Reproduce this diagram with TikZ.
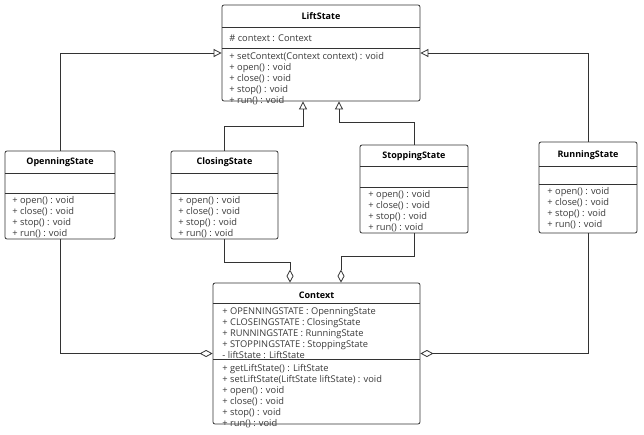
\documentclass[tikz,border=0pt]{standalone}
\usepackage{fontspec}
\setmainfont{Open Sans}
\usetikzlibrary{arrows.meta}
\definecolor{umlline}{HTML}{333333}
\definecolor{umltext}{HTML}{3A3A3A}

\begin{document}
\begin{tikzpicture}[x=1pt,y=-1pt,line width=0.8pt,
  cls/.style={draw=umlline,rounded corners=2pt,inner sep=0pt,fill=white},
  ttl/.style={inner sep=0pt,text=black,font=\fontsize{9}{10}\selectfont\bfseries},
  txt/.style={anchor=north west,align=left,inner sep=0pt,text=umltext,font=\fontsize{9.3}{11}\selectfont},
  sep/.style={draw=umlline,line width=0.7pt},
  gen/.style={draw=umlline,-{Triangle[open,length=8pt,width=8pt]}},
  agg/.style={draw=umlline,-{Diamond[open,length=13pt,width=7pt]}}]
  \useasboundingbox (0,0) rectangle (644,434);

  % class boxes
  \node[cls,minimum width=198pt,minimum height=96pt] (lift) at (321,53) {};
  \node[cls,minimum width=110pt,minimum height=88pt] (open) at (60,195) {};
  \node[cls,minimum width=107pt,minimum height=88pt] (close) at (224.5,195) {};
  \node[cls,minimum width=108pt,minimum height=88pt] (stop) at (414,189) {};
  \node[cls,minimum width=98pt,minimum height=91pt] (run) at (588,187.5) {};
  \node[cls,minimum width=207pt,minimum height=141pt] (ctx) at (316.5,353.5) {};

  % compartments
  \draw[sep] (222,27) -- (420,27);
  \draw[sep] (222,48) -- (420,48);
  \draw[sep] (5,173) -- (115,173);
  \draw[sep] (5,193) -- (115,193);
  \draw[sep] (171,173) -- (278,173);
  \draw[sep] (171,193) -- (278,193);
  \draw[sep] (360,166) -- (468,166);
  \draw[sep] (360,187) -- (468,187);
  \draw[sep] (539,166) -- (637,166);
  \draw[sep] (539,184) -- (637,184);
  \draw[sep] (213,303) -- (420,303);
  \draw[sep] (213,359) -- (420,359);

  % LiftState
  \node[ttl] (lift-t) at (321,16) {LiftState};
  \node[txt] (lift-a) at (229,34) {\# context : Context};
  \node[txt] (lift-o) at (229,52.5) {+ setContext(Context context) : void\\+ open() : void\\+ close() : void\\+ stop() : void\\+ run() : void};

  % OpenningState
  \node[ttl] (open-t) at (60,162) {OpenningState};
  \node[txt] (open-o) at (12,196.5) {+ open() : void\\+ close() : void\\+ stop() : void\\+ run() : void};

  % ClosingState
  \node[ttl] (close-t) at (224.5,162) {ClosingState};
  \node[txt] (close-o) at (178,196.5) {+ open() : void\\+ close() : void\\+ stop() : void\\+ run() : void};

  % StoppingState
  \node[ttl] (stop-t) at (414,156) {StoppingState};
  \node[txt] (stop-o) at (368,190.5) {+ open() : void\\+ close() : void\\+ stop() : void\\+ run() : void};

  % RunningState
  \node[ttl] (run-t) at (588,155) {RunningState};
  \node[txt] (run-o) at (547,187) {+ open() : void\\+ close() : void\\+ stop() : void\\+ run() : void};

  % Context
  \node[ttl] (ctx-t) at (316.5,295) {Context};
  \node[txt] (ctx-a) at (222,307.5) {+ OPENNINGSTATE : OpenningState\\+ CLOSEINGSTATE : ClosingState\\+ RUNNINGSTATE : RunningState\\+ STOPPINGSTATE : StoppingState\\- liftState : LiftState};
  \node[txt] (ctx-o) at (222,363.5) {+ getLiftState() : LiftState\\+ setLiftState(LiftState liftState) : void\\+ open() : void\\+ close() : void\\+ stop() : void\\+ run() : void};

  % attachment points
  \coordinate (ls1) at ([xshift=-18pt]lift.south);
  \coordinate (ls2) at ([xshift=18pt]lift.south);
  \coordinate (cx1) at ([xshift=-26.5pt]ctx.north);
  \coordinate (cx2) at ([xshift=24.5pt]ctx.north);

  % generalization
  \draw[gen] (open.north) |- (lift.west);
  \draw[gen] (run.north) |- (lift.east);
  \draw[gen] (close.north) -- ++(0,-24) -| (ls1);
  \draw[gen] (stop.north) -- ++(0,-22) -| (ls2);

  % aggregation
  \draw[agg] (close.south) -- ++(0,23) -| (cx1);
  \draw[agg] (stop.south) -- ++(0,23) -| (cx2);
  \draw[agg] (open.south) |- (ctx.west);
  \draw[agg] (run.south) |- (ctx.east);
\end{tikzpicture}
\end{document}
